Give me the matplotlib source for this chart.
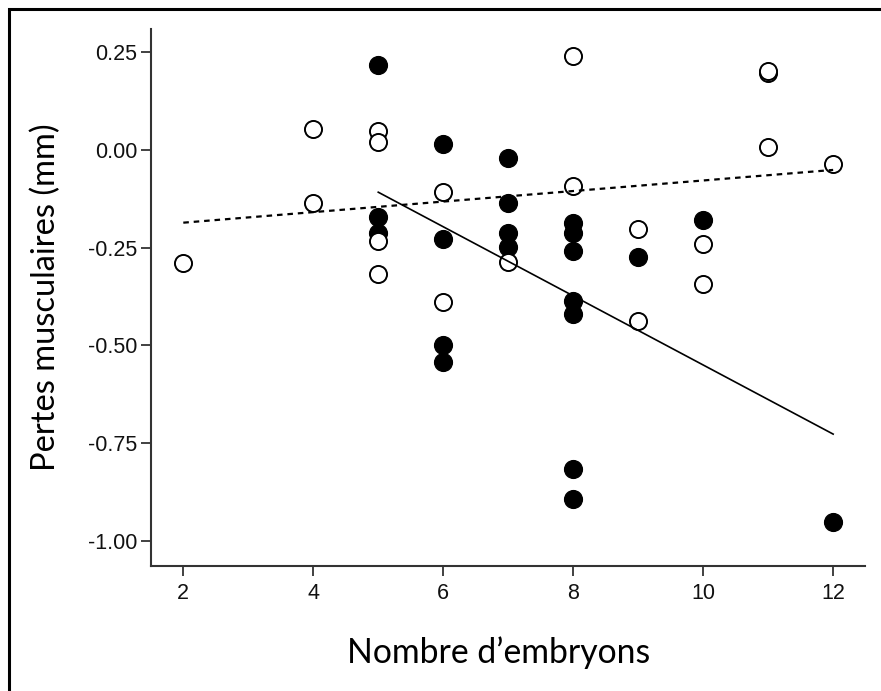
import matplotlib
matplotlib.use("Agg")
import matplotlib.pyplot as plt
from matplotlib.patches import Rectangle

# Open circles (group 1)
open_x = [2, 4, 4, 5, 5, 5, 5, 6, 6, 7, 8, 8, 9, 9, 10, 10, 11, 11, 11, 12]
open_y = [-0.29, 0.053, -0.135, 0.049, 0.020, -0.232, -0.318, -0.107, -0.39,
          -0.286, 0.241, -0.091, -0.203, -0.437, -0.24, -0.343, 0.198, 0.203,
          0.0085, -0.036]

# Filled circles (group 2)
filled_x = [5, 5, 5, 6, 6, 6, 6, 7, 7, 7, 7, 8, 8, 8, 8, 8, 8, 8, 9, 10, 12]
filled_y = [0.217, -0.171, -0.213, 0.015, -0.229, -0.50, -0.543, -0.020,
            -0.135, -0.213, -0.247, -0.186, -0.213, -0.258, -0.386, -0.42,
            -0.816, -0.894, -0.273, -0.179, -0.953]

# Fit lines (endpoints)
fit_open_x = [2, 12]
fit_open_y = [-0.186, -0.051]
fit_filled_x = [5, 12]
fit_filled_y = [-0.108, -0.727]

xticks = [2, 4, 6, 8, 10, 12]
yticks = [0.25, 0.00, -0.25, -0.50, -0.75, -1.00]
ytick_labels = ["0.25", "0.00", "-0.25", "-0.50", "-0.75", "-1.00"]

W, H = 881, 691
fig = plt.figure(figsize=(W / 100, H / 100), dpi=100)
ax = fig.add_axes([151 / W, 1 - 566 / H, (865 - 151) / W, (566 - 29) / H])

ax.plot(filled_x, filled_y, linestyle="none", marker="o", markersize=12.8,
        markerfacecolor="black", markeredgecolor="black", markeredgewidth=1.0, zorder=3)
ax.plot(open_x, open_y, linestyle="none", marker="o", markersize=12.3,
        markerfacecolor="white", markeredgecolor="black", markeredgewidth=1.4, zorder=4)

ax.plot(fit_open_x, fit_open_y, color="black", linewidth=1.6,
        linestyle=(0, (2.5, 2.2)), zorder=5)
ax.plot(fit_filled_x, fit_filled_y, color="black", linewidth=1.2, zorder=5)

ax.set_xlim(1.503, 12.49)
ax.set_ylim(-1.0645, 0.3096)
ax.set_xticks(xticks)
ax.set_xticklabels([str(t) for t in xticks])
ax.set_yticks(yticks)
ax.set_yticklabels(ytick_labels)

for s in ["top", "right"]:
    ax.spines[s].set_visible(False)
for s in ["left", "bottom"]:
    ax.spines[s].set_linewidth(1.5)
    ax.spines[s].set_color("#333333")

ax.tick_params(axis="both", direction="out", length=7, width=1.3, color="#333333",
               labelsize=15.5, pad=3)
ax.tick_params(axis="x", pad=5)
for lab in ax.get_xticklabels() + ax.get_yticklabels():
    lab.set_family("Liberation Sans")
    lab.set_color("#111111")

ax.set_xlabel("Nombre d\u2019embryons", family=["Lato", "DejaVu Sans"], fontsize=24.3)
ax.xaxis.set_label_coords((499 - 151) / (865 - 151), -(653 - 566) / (566 - 29),
                          transform=ax.transAxes)
ax.xaxis.label.set_va("center")
ax.set_ylabel("Pertes musculaires (mm)", family=["Lato", "DejaVu Sans"], fontsize=23.5)
ax.yaxis.set_label_coords(-(151 - 46) / (865 - 151), 1 - (297 - 29) / (566 - 29))
ax.yaxis.label.set_va("center")

fig.patches.append(Rectangle((9 / W, -0.1), 1.2, 1 - 9 / H + 0.1, transform=fig.transFigure,
                             fill=False, edgecolor="black", linewidth=2.2))

fig.savefig("out.png", dpi=100)
